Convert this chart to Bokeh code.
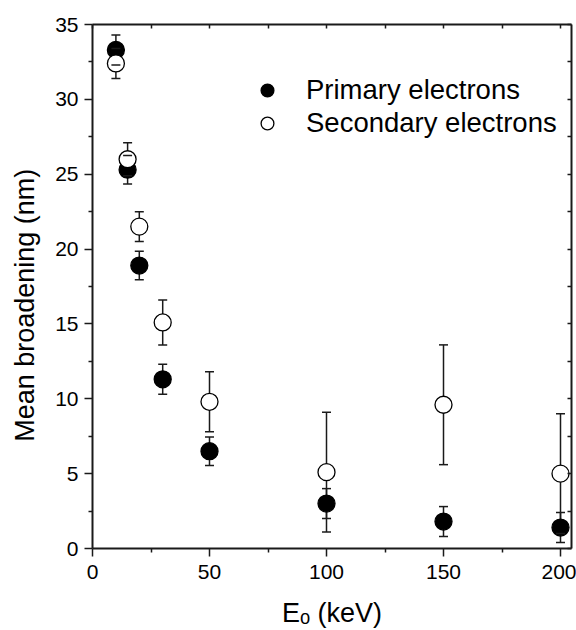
from bokeh.plotting import figure
from bokeh.models import (ColumnDataSource, FixedTicker, LinearAxis, Range1d,
                          Whisker, TeeHead, Legend, LegendItem)
from bokeh.embed import file_html
from bokeh.resources import INLINE

# ---- data ----
energy = [10, 15, 20, 30, 50, 100, 150, 200]
primary = [33.3, 25.3, 18.9, 11.3, 6.5, 3.0, 1.8, 1.4]
primary_err = [1.0, 0.95, 0.95, 1.0, 0.95, 1.0, 1.0, 1.0]
secondary = [32.4, 26.0, 21.5, 15.1, 9.8, 5.1, 9.6, 5.0]
secondary_err = [1.0, 1.1, 1.0, 1.5, 2.0, 4.0, 4.0, 4.0]

x_major = [0, 50, 100, 150, 200]
x_minor = [25, 75, 125, 175]
y_major = [0, 5, 10, 15, 20, 25, 30, 35]
y_minor = [2.5, 7.5, 12.5, 17.5, 22.5, 27.5, 32.5]

FONT = "Liberation Sans"
INK = "#1a1a1a"

src_p = ColumnDataSource(dict(
    x=energy, y=primary,
    lower=[v - e for v, e in zip(primary, primary_err)],
    upper=[v + e for v, e in zip(primary, primary_err)]))
src_s = ColumnDataSource(dict(
    x=energy, y=secondary,
    lower=[v - e for v, e in zip(secondary, secondary_err)],
    upper=[v + e for v, e in zip(secondary, secondary_err)]))

p = figure(width=576, height=630, output_backend="svg", toolbar_location=None,
           x_range=Range1d(0, 204.7), y_range=Range1d(0, 35),
           min_border_left=92, min_border_top=24, min_border_right=5,
           min_border_bottom=82)
p.grid.visible = False
p.outline_line_color = None
p.background_fill_color = "white"
p.border_fill_color = "white"

# error bar stems (under markers)
for src in (src_p, src_s):
    p.segment(x0="x", y0="lower", x1="x", y1="upper", source=src,
              line_color=INK, line_width=1.5)

r_p = p.scatter("x", "y", source=src_p, size=17, marker="circle",
                fill_color="black", line_color="black", line_width=1.3)
r_s = p.scatter("x", "y", source=src_s, size=17, marker="circle",
                fill_color="white", line_color="black", line_width=1.3)

# caps on top of markers
for src in (src_s, src_p):
    w = Whisker(base="x", lower="lower", upper="upper", source=src,
                line_alpha=0, level="annotation",
                upper_head=TeeHead(size=9, line_color=INK, line_width=1.5),
                lower_head=TeeHead(size=9, line_color=INK, line_width=1.5))
    p.add_layout(w)

# main axes
xa = p.xaxis[0]
ya = p.yaxis[0]
xa.ticker = FixedTicker(ticks=x_major, minor_ticks=x_minor)
ya.ticker = FixedTicker(ticks=y_major, minor_ticks=y_minor)
xa.axis_label = "E\u2092 (keV)"
ya.axis_label = "Mean broadening (nm)" + "\u00a0" * 5
for ax in (xa, ya):
    ax.axis_line_width = 2
    ax.axis_line_color = INK
    ax.major_tick_line_color = INK
    ax.minor_tick_line_color = INK
    ax.major_tick_line_width = 1.5
    ax.minor_tick_line_width = 1.5
    ax.major_tick_out = 8
    ax.major_tick_in = 0
    ax.minor_tick_out = 4
    ax.minor_tick_in = 0
    ax.major_label_text_font = FONT
    ax.major_label_text_font_size = "21px"
    ax.major_label_text_color = "black"
    ax.axis_label_text_font = FONT
    ax.axis_label_text_font_size = "27px"
    ax.axis_label_text_font_style = "normal"
    ax.axis_label_text_color = "black"
xa.major_label_standoff = 8
xa.axis_label_standoff = 16
ya.major_label_standoff = 6
ya.axis_label_standoff = 12

# mirrored axes (top / right): inward ticks only, no labels
for place, ticks in (("above", x_major + x_minor), ("right", y_major + y_minor)):
    ax = LinearAxis(ticker=FixedTicker(ticks=[], minor_ticks=ticks))
    ax.axis_line_width = 2
    ax.axis_line_color = INK
    ax.minor_tick_line_color = INK
    ax.minor_tick_line_width = 1.5
    ax.major_tick_out = 0
    ax.major_tick_in = 0
    ax.minor_tick_out = 0
    ax.minor_tick_in = 4
    ax.major_label_standoff = 0
    p.add_layout(ax, place)

legend = Legend(items=[LegendItem(label="Primary electrons", renderers=[r_p]),
                       LegendItem(label="Secondary electrons", renderers=[r_s])],
                location=(159, 409), orientation="vertical",
                glyph_width=32, glyph_height=32, spacing=1, padding=0, margin=0,
                label_standoff=23, label_text_font=FONT,
                label_text_font_size="27.5px", label_text_color="black",
                border_line_color=None, background_fill_alpha=0)
p.add_layout(legend)

open("out.html", "w").write(file_html(p, INLINE))
